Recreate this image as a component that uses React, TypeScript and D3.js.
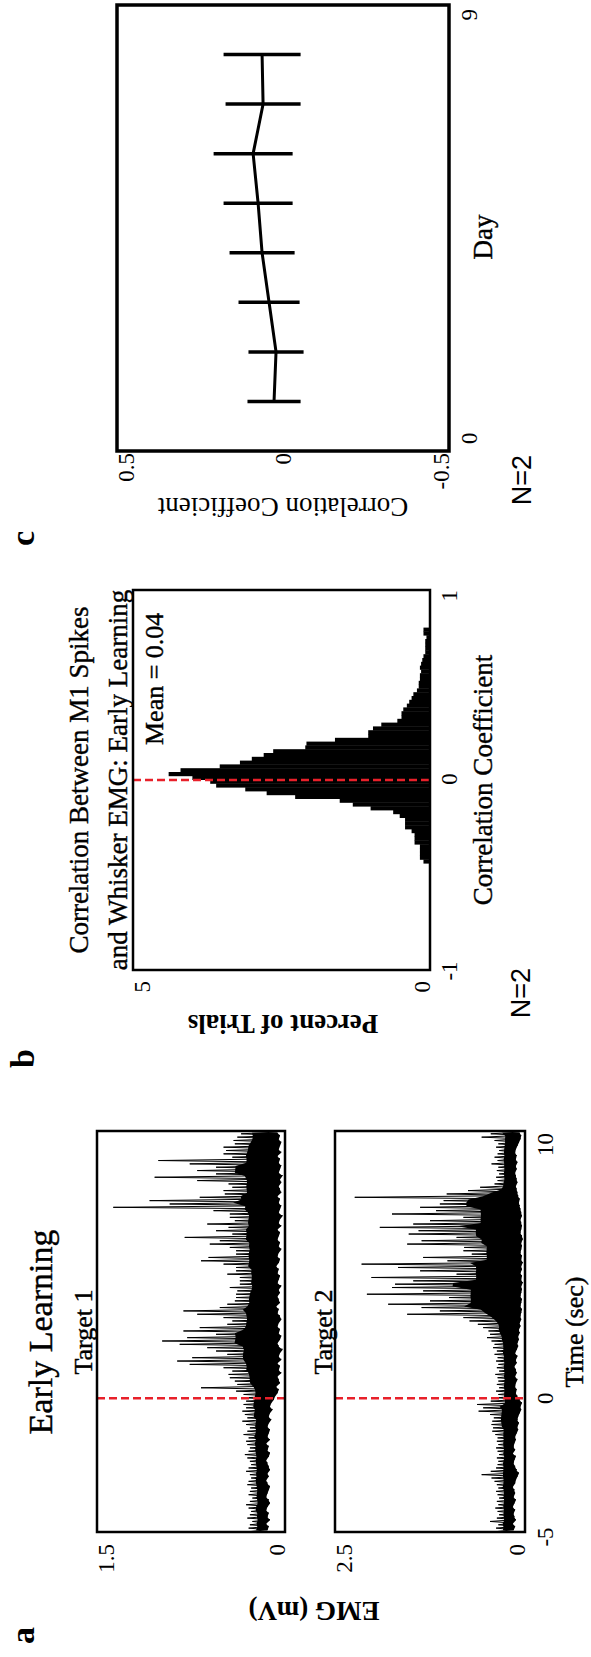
import React from 'react';
import * as d3 from 'd3';

// panel a: EMG per 0.125 s bin from -5 s to 10 s, top and bottom of the trace (mV)
const emgStart = -5;
const emgBin = 0.125;

const target1Hi = [
  0.27, 0.29, 0.28, 0.26, 0.30, 0.28, 0.27, 0.29, 0.31, 0.28,
  0.26, 0.29, 0.28, 0.27, 0.30, 0.29, 0.27, 0.28, 0.31, 0.29,
  0.27, 0.28, 0.30, 0.32, 0.29, 0.28, 0.30, 0.31, 0.29, 0.33,
  0.30, 0.28, 0.31, 0.34, 0.30, 0.32, 0.34, 0.31, 0.33, 0.31,
  0.32, 0.33, 0.39, 0.67, 0.38, 0.40, 0.44, 0.45, 0.42, 0.49,
  0.76, 0.86, 0.74, 0.46, 0.55, 0.62, 0.84, 0.98, 0.78, 0.55,
  0.81, 0.68, 0.46, 0.42, 0.49, 0.70, 0.81, 0.52, 0.46, 0.40,
  0.39, 0.39, 0.38, 0.44, 0.36, 0.36, 0.36, 0.46, 0.39, 0.39,
  0.49, 0.67, 0.61, 0.39, 0.39, 0.44, 0.60, 0.52, 0.80, 0.42,
  0.55, 0.45, 0.62, 0.40, 0.44, 0.44, 0.57, 1.37, 0.92, 1.08,
  0.68, 0.48, 0.49, 0.42, 0.45, 0.70, 1.04, 0.55, 0.70, 0.55,
  0.76, 1.01, 0.42, 0.49, 0.47, 0.49, 0.40, 0.41, 0.38, 0.35,
];
const target1Lo = [
  0.14, 0.13, 0.15, 0.12, 0.14, 0.13, 0.15, 0.14, 0.12, 0.13,
  0.15, 0.14, 0.13, 0.12, 0.14, 0.15, 0.13, 0.14, 0.12, 0.13,
  0.14, 0.15, 0.13, 0.12, 0.14, 0.13, 0.15, 0.12, 0.14, 0.13,
  0.12, 0.14, 0.13, 0.11, 0.13, 0.12, 0.10, 0.12, 0.11, 0.09,
  0.08, 0.06, 0.05, 0.07, 0.04, 0.05, 0.06, 0.03, 0.05, 0.04,
  0.06, 0.03, 0.05, 0.04, 0.02, 0.05, 0.06, 0.04, 0.03, 0.05,
  0.04, 0.06, 0.05, 0.03, 0.04, 0.06, 0.05, 0.07, 0.04, 0.05,
  0.06, 0.04, 0.05, 0.03, 0.06, 0.05, 0.04, 0.06, 0.05, 0.07,
  0.05, 0.04, 0.06, 0.05, 0.03, 0.05, 0.04, 0.06, 0.05, 0.04,
  0.06, 0.03, 0.05, 0.04, 0.02, 0.05, 0.04, 0.03, 0.05, 0.04,
  0.06, 0.03, 0.04, 0.05, 0.03, 0.04, 0.02, 0.05, 0.04, 0.03,
  0.05, 0.04, 0.06, 0.03, 0.05, 0.04, 0.03, 0.05, 0.04, 0.06,
];
const target2Hi = [
  0.36, 0.38, 0.35, 0.46, 0.37, 0.34, 0.36, 0.39, 0.35, 0.37,
  0.34, 0.36, 0.38, 0.35, 0.37, 0.40, 0.44, 0.57, 0.45, 0.38,
  0.36, 0.35, 0.37, 0.34, 0.36, 0.38, 0.35, 0.37, 0.36, 0.39,
  0.43, 0.42, 0.44, 0.43, 0.41, 0.46, 0.61, 0.55, 0.63, 0.45,
  0.36, 0.35, 0.38, 0.34, 0.37, 0.35, 0.36, 0.39, 0.34, 0.37,
  0.35, 0.38, 0.36, 0.40, 0.37, 0.42, 0.40, 0.44, 0.50, 0.46,
  0.48, 0.55, 0.62, 0.73, 0.81, 1.55, 1.12, 1.36, 1.80, 1.25,
  1.00, 2.08, 1.34, 1.75, 1.71, 1.47, 2.02, 0.90, 1.38, 1.67,
  2.15, 1.02, 1.34, 0.70, 0.81, 0.80, 1.55, 1.36, 0.90, 1.53,
  1.40, 1.91, 1.47, 1.25, 0.81, 1.75, 1.17, 1.38, 1.12, 1.07,
  2.24, 1.03, 0.75, 0.59, 0.40, 0.36, 0.38, 0.34, 0.37, 0.35,
  0.44, 0.36, 0.40, 0.36, 0.34, 0.38, 0.35, 0.40, 0.57, 0.45,
];
const target2Lo = [
  0.15, 0.13, 0.16, 0.12, 0.14, 0.15, 0.13, 0.16, 0.14, 0.12,
  0.15, 0.13, 0.14, 0.16, 0.13, 0.12, 0.10, 0.08, 0.11, 0.13,
  0.15, 0.14, 0.12, 0.16, 0.13, 0.15, 0.14, 0.12, 0.13, 0.11,
  0.09, 0.10, 0.08, 0.10, 0.09, 0.07, 0.05, 0.06, 0.04, 0.07,
  0.10, 0.12, 0.11, 0.13, 0.12, 0.10, 0.13, 0.11, 0.12, 0.14,
  0.11, 0.12, 0.10, 0.13, 0.11, 0.09, 0.10, 0.08, 0.09, 0.07,
  0.08, 0.06, 0.07, 0.05, 0.06, 0.05, 0.04, 0.06, 0.05, 0.04,
  0.06, 0.05, 0.04, 0.05, 0.03, 0.05, 0.04, 0.06, 0.04, 0.05,
  0.03, 0.05, 0.04, 0.06, 0.05, 0.04, 0.05, 0.03, 0.04, 0.06,
  0.05, 0.04, 0.05, 0.06, 0.04, 0.05, 0.06, 0.07, 0.08, 0.07,
  0.09, 0.10, 0.11, 0.12, 0.10, 0.11, 0.12, 0.13, 0.11, 0.12,
  0.10, 0.12, 0.11, 0.13, 0.12, 0.10, 0.08, 0.06, 0.05, 0.07,
];

// panel b: percent of trials, 0.02 wide bins starting at -0.44
const histStart = -0.44;
const histBin = 0.02;
const histPct = [
  0.11, 0.17, 0.17, 0.17, 0.17, 0.26, 0.26, 0.26, 0.31, 0.42,
  0.42, 0.42, 0.51, 0.62, 1.0, 1.3, 1.52, 2.27, 2.75, 3.11,
  3.6, 3.7, 4.0, 4.4, 4.2, 3.54, 3.2, 3.0, 2.8, 2.64,
  2.1, 2.08, 1.6, 1.04, 1.04, 0.96, 0.82, 0.55, 0.48, 0.48,
  0.45, 0.39, 0.35, 0.31, 0.28, 0.22, 0.19, 0.19, 0.17, 0.17,
  0.15, 0.17, 0.15, 0.13, 0.11, 0.08, 0.08, 0.08, 0.08, 0.06,
  0.11, 0.11,
];

// panel c: correlation per day
const days = [1, 2, 3, 4, 5, 6, 7, 8];
const dayMean = [0.027, 0.021, 0.042, 0.063, 0.075, 0.09, 0.06, 0.063];
const dayErr = [0.08, 0.083, 0.092, 0.098, 0.104, 0.119, 0.113, 0.116];

const serif = '"Liberation Serif", "Times New Roman", serif';
const sans = '"Liberation Sans", Arial, sans-serif';
const red = '#e8202a';

const xA = d3.scaleLinear().domain([-5, 10]).range([125, 526]);
const yA1 = d3.scaleLinear().domain([0, 1.5]).range([285, 97]);
const yA2 = d3.scaleLinear().domain([0, 2.5]).range([525, 335]);
const xB = d3.scaleLinear().domain([-1, 1]).range([687, 1067]);
const yB = d3.scaleLinear().domain([0, 5]).range([430, 133]);
const xC = d3.scaleLinear().domain([0, 9]).range([1206, 1652]);
const yC = d3.scaleLinear().domain([-0.5, 0.5]).range([449, 117]);

const Emg = ({ hi, lo, y }) => {
  const n = Math.min(hi.length, lo.length);
  const pts = [];
  for (let i = 0; i < n; i++) {
    const t = emgStart + i * emgBin;
    pts.push([t + 0.02, hi[i]]);
    pts.push([t + 0.085, lo[i]]);
  }
  const zig = d3.line().x((d) => xA(d[0])).y((d) => y(d[1]))(pts);
  // solid body of the trace: the lowest top among neighbouring bins
  const top = (i) => {
    const m = d3.min(d3.range(Math.max(0, i - 2), Math.min(n, i + 3)), (j) => hi[j]);
    return lo[i] + 0.7 * (m - lo[i]);
  };
  const core = d3
    .area()
    .x((i) => xA(emgStart + i * emgBin + emgBin / 2))
    .y0((i) => y(lo[i]))
    .y1((i) => y(top(i)))(d3.range(n));
  return (
    <g>
      <path d={core} fill="#000" />
      <path d={zig} fill="none" stroke="#000" strokeWidth={1} />
    </g>
  );
};

const Box = ({ x, y, w = 2.5 }) => (
  <rect
    x={x.range()[0]}
    y={y.range()[1]}
    width={x.range()[1] - x.range()[0]}
    height={y.range()[0] - y.range()[1]}
    fill="none"
    stroke="#000"
    strokeWidth={w}
  />
);

// y tick labels: the top one hangs under the frame, the bottom one sits on it
const YLabels = ({ y, ticks, xEnd }) => {
  const [lo, hi] = y.domain();
  return (
    <g fontFamily={serif} fontSize={23} textAnchor="end">
      {ticks.map((v) => (
        <text key={v} x={xEnd} y={v === hi ? y(v) + 17 : v === lo ? y(v) : y(v) + 8}>
          {String(v)}
        </text>
      ))}
    </g>
  );
};

const App = () => {
  const histX = (j) => histStart + j * histBin;
  const meanLine = d3
    .line()
    .x((d) => xC(d))
    .y((d, i) => yC(dayMean[i]))(days);

  return (
    <div style={{ position: 'absolute', left: 0, top: 0 }}>
      <svg width={591} height={1657} style={{ display: 'block', background: '#fff' }}>
        <g transform="translate(0,1657) rotate(-90)" fontFamily={serif} fill="#000">
          {/* panel labels */}
          <g fontSize={34} fontWeight="bold">
            <text x={13} y={34}>a</text>
            <text x={589} y={34}>b</text>
            <text x={1111} y={34}>c</text>
          </g>

          {/* ---------- panel a ---------- */}
          <g stroke="#000" strokeWidth={0.4}>
            <text x={325} y={52} fontSize={34} textAnchor="middle">Early Learning</text>
            <text x={325} y={92} fontSize={26} textAnchor="middle">Target 1</text>
            <text x={325} y={332} fontSize={26} textAnchor="middle">Target 2</text>
          </g>

          <Emg hi={target1Hi} lo={target1Lo} y={yA1} />
          <Emg hi={target2Hi} lo={target2Lo} y={yA2} />
          <line x1={xA(0)} x2={xA(0)} y1={yA1(1.5)} y2={yA1(0)} stroke={red} strokeWidth={2.5} strokeDasharray="8,4" />
          <line x1={xA(0)} x2={xA(0)} y1={yA2(2.5)} y2={yA2(0)} stroke={red} strokeWidth={2.5} strokeDasharray="8,4" />
          <Box x={xA} y={yA1} />
          <Box x={xA} y={yA2} />
          <YLabels y={yA1} ticks={[0, 1.5]} xEnd={113} />
          <YLabels y={yA2} ticks={[0, 2.5]} xEnd={113} />
          <g fontSize={23} textAnchor="middle">
            <text x={xA(-5) - 5} y={553}>-5</text>
            <text x={xA(0)} y={553}>0</text>
            <text x={xA(10) - 2} y={553} textAnchor="end">10</text>
          </g>
          <text x={325} y={583} fontSize={26} textAnchor="middle" stroke="#000" strokeWidth={0.4}>Time (sec)</text>
          <text transform="translate(55,314) rotate(-90)" fontSize={27} fontWeight="bold" textAnchor="middle">
            EMG (mV)
          </text>

          {/* ---------- panel b ---------- */}
          <g fontSize={27} textAnchor="middle" stroke="#000" strokeWidth={0.4}>
            <text x={877} y={88}>Correlation Between M1 Spikes</text>
            <text x={877} y={127}>and Whisker EMG: Early Learning</text>
          </g>
          {histPct.map((v, j) => (
            <rect
              key={j}
              x={xB(histX(j))}
              y={yB(v)}
              width={xB(histX(j + 1)) - xB(histX(j)) + 0.4}
              height={yB(0) - yB(v)}
              fill="#000"
            />
          ))}
          <line x1={xB(0)} x2={xB(0)} y1={yB(5)} y2={yB(0)} stroke={red} strokeWidth={2.5} strokeDasharray="8,4" />
          <Box x={xB} y={yB} />
          <text x={912} y={163} fontSize={26} stroke="#000" strokeWidth={0.4}>Mean = 0.04</text>
          <YLabels y={yB} ticks={[0, 5]} xEnd={676} />
          <g fontSize={23} textAnchor="middle">
            <text x={xB(-1) - 1} y={457}>-1</text>
            <text x={xB(0) + 1} y={457}>0</text>
            <text x={xB(1)} y={457} textAnchor="end">1</text>
          </g>
          <text x={877} y={492} fontSize={27} textAnchor="middle" stroke="#000" strokeWidth={0.4}>
            Correlation Coefficient
          </text>
          <text transform="translate(642,283) rotate(-90)" fontSize={27} fontWeight="bold" textAnchor="middle">
            Percent of Trials
          </text>
          <text x={689} y={530} fontSize={27} fontFamily={sans} textAnchor="end">N=2</text>

          {/* ---------- panel c ---------- */}
          {days.map((d, i) => (
            <line
              key={d}
              x1={xC(d)}
              x2={xC(d)}
              y1={yC(dayMean[i] - dayErr[i])}
              y2={yC(dayMean[i] + dayErr[i])}
              stroke="#000"
              strokeWidth={3.5}
            />
          ))}
          <path d={meanLine} fill="none" stroke="#000" strokeWidth={3} />
          <Box x={xC} y={yC} w={3.5} />
          <YLabels y={yC} ticks={[-0.5, 0, 0.5]} xEnd={1204} />
          <g fontSize={23}>
            <text x={xC(0) + 7} y={477}>0</text>
            <text x={xC(9) - 4} y={477} textAnchor="end">9</text>
          </g>
          <text x={1420} y={492} fontSize={27} textAnchor="middle" stroke="#000" strokeWidth={0.4}>Day</text>
          <text transform="translate(1159,283) rotate(-90)" fontSize={27} textAnchor="middle">
            Correlation Coefficient
          </text>
          <text x={1202} y={531} fontSize={27} fontFamily={sans} textAnchor="end">N=2</text>
        </g>
      </svg>
    </div>
  );
};

export default App;
